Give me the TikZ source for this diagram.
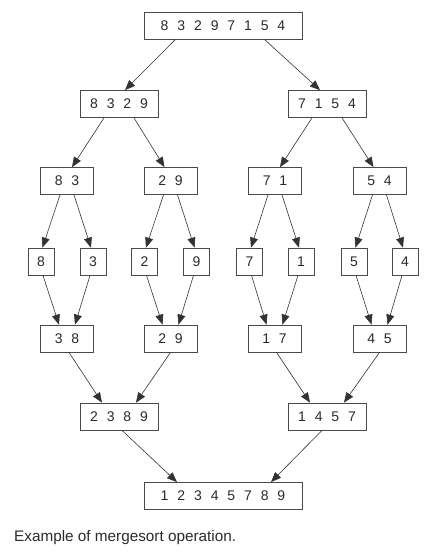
\documentclass[tikz,border=0pt]{standalone}
\usepackage{fontspec}
\setmainfont{Liberation Sans}
\usetikzlibrary{arrows.meta,calc}
\definecolor{boxline}{HTML}{4A4A4A}
\definecolor{txt}{HTML}{2A2A2A}
\definecolor{arr}{HTML}{333333}
\newcommand\widespacing{\spaceskip=8.9pt\relax}
\tikzset{
  cell/.style={draw=boxline, line width=0.8pt, minimum height=27pt, inner sep=0pt,
    text=txt, font=\fontsize{14}{16}\selectfont, execute at begin node=\widespacing},
  w1/.style={cell, minimum width=26pt},
  w2/.style={cell, minimum width=53pt},
  w4/.style={cell, minimum width=78pt},
  w8/.style={cell, minimum width=158pt},
  conn/.style={draw=arr, line width=0.6pt, -{Triangle[length=10pt,width=8pt]}},
  caption/.style={anchor=base west, inner sep=0pt, text=txt, font=\fontsize{15.3}{17}\selectfont}
}
\begin{document}
\begin{tikzpicture}[x=1pt,y=-1pt]
\useasboundingbox (0,0) rectangle (431,555);
% level 1
\node[w8] (t) at (223,26) {8 3 2 9 7 1 5 4};
% level 2
\node[w4] (a) at (119,104) {8 3 2 9};
\node[w4] (b) at (327,104) {7 1 5 4};
% level 3
\node[w2] (a1) at (67,181) {8 3};
\node[w2] (a2) at (170.5,181) {2 9};
\node[w2] (b1) at (275,181) {7 1};
\node[w2] (b2) at (379.5,181) {5 4};
% level 4
\node[w1] (s1) at (41,261.5) {8};
\node[w1] (s2) at (93,261.5) {3};
\node[w1] (s3) at (144.5,261.5) {2};
\node[w1] (s4) at (196.5,261.5) {9};
\node[w1] (s5) at (249.5,261.5) {7};
\node[w1] (s6) at (301,261.5) {1};
\node[w1] (s7) at (354,261.5) {5};
\node[w1] (s8) at (405,261.5) {4};
% level 5
\node[w2] (m1) at (67,338.5) {3 8};
\node[w2] (m2) at (170.5,338.5) {2 9};
\node[w2] (m3) at (274.5,338.5) {1 7};
\node[w2] (m4) at (379.5,338.5) {4 5};
% level 6
\node[w4] (n1) at (119,416.5) {2 3 8 9};
\node[w4] (n2) at (327,416.5) {1 4 5 7};
% level 7
\node[w8] (r) at (223,496) {1 2 3 4 5 7 8 9};
% caption
\node[caption] (cap) at (14,541) {Example of mergesort operation.};

% split arrows
\draw[conn] ($(t.south)+(-48,0)$) -- ($(a.north)+(6,0)$);
\draw[conn] ($(t.south)+(42,0)$) -- ($(b.north)+(-7,0)$);
\foreach \p/\l/\r in {a/a1/a2, b/b1/b2}{
  \draw[conn] ($(\p.south)+(-15,0)$) -- ($(\l.north)+(5,0)$);
  \draw[conn] ($(\p.south)+(15,0)$) -- ($(\r.north)+(-6,0)$);
}
\foreach \p/\l/\r in {a1/s1/s2, a2/s3/s4, b1/s5/s6, b2/s7/s8}{
  \draw[conn] ($(\p.south)+(-7,0)$) -- ($(\l.north)+(1.5,0)$);
  \draw[conn] ($(\p.south)+(7,0)$) -- ($(\r.north)+(-2,0)$);
}
% merge arrows
\foreach \l/\r/\c in {s1/s2/m1, s3/s4/m2, s5/s6/m3, s7/s8/m4}{
  \draw[conn] ($(\l.south)+(2,0)$) -- ($(\c.north)+(-8,0)$);
  \draw[conn] ($(\r.south)+(-3,0)$) -- ($(\c.north)+(8,0)$);
}
\foreach \l/\r/\c in {m1/m2/n1, m3/m4/n2}{
  \draw[conn] ($(\l.south)+(2,0)$) -- ($(\c.north)+(-17,0)$);
  \draw[conn] ($(\r.south)+(0,0)$) -- ($(\c.north)+(17,0)$);
}
\draw[conn] ($(n1.south)+(3,0)$) -- ($(r.north)+(-46,0)$);
\draw[conn] ($(n2.south)+(-5,0)$) -- ($(r.north)+(48,0)$);
\end{tikzpicture}
\end{document}
